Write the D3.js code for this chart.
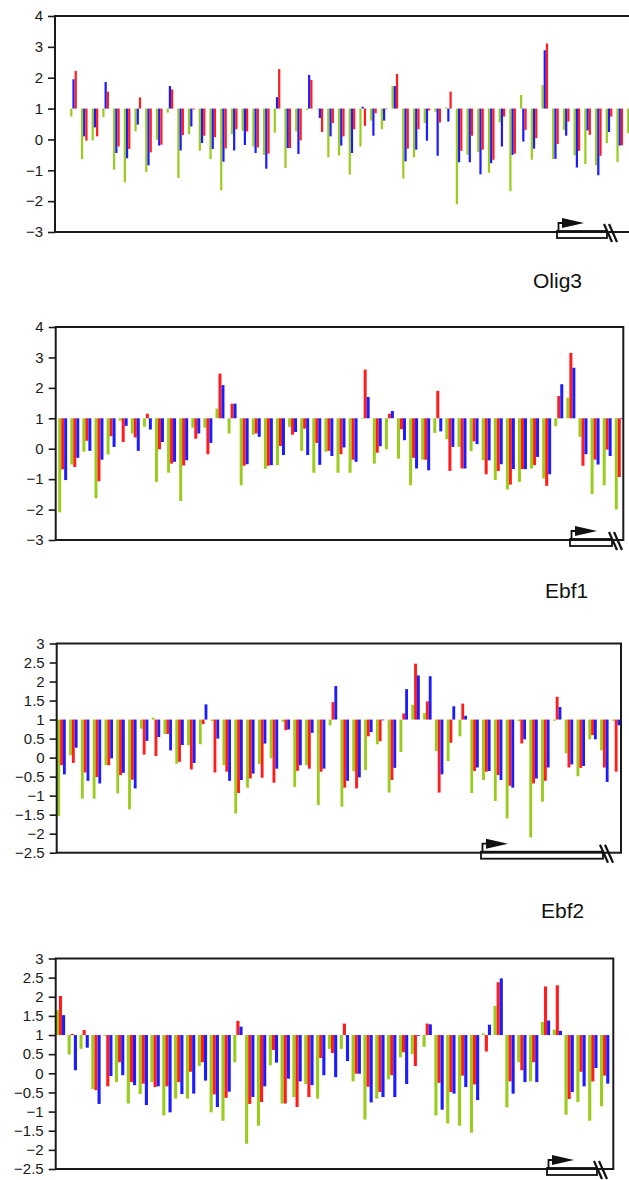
<!DOCTYPE html>
<html>
<head>
<meta charset="utf-8">
<script src="https://cdn.jsdelivr.net/npm/d3@7"></script>
<style>
  body { margin: 0; background: #fff; }
  svg { display: block; }
  text { font-family: "Liberation Sans", Arial, Helvetica, sans-serif; }
</style>
</head>
<body>
<div id="wrapper"></div>
<script>
// ---- data: values (baseline of the bars is 1) ----
const ticksWide = [-3, -2, -1, 0, 1, 2, 3, 4]
const ticksHalf = [-2.5, -2, -1.5, -1, -0.5, 0, 0.5, 1, 1.5, 2, 2.5, 3]

// top panel (label cropped off), bar order green / blue / red
const topGreen = [0.74, -0.64, -0.03, 0.72, -0.98, -1.39, 0.26, -1.06, -0.01, 0.87, -1.25, 0.17, -0.37, -0.64, -1.65, 0.17, 0.28, -0.23, -0.50, 0.22, -0.93, 0.26, 0.96, 0.98, -0.58, -0.52, -1.14, -0.23, 0.61, 0.33, 1.73, -1.27, -0.58, 0.53, 0.90, 1.04, -2.10, -0.50, -0.41, -1.08, 0.55, -1.68, 1.44, -0.66, 1.76, -0.64, 0.31, -0.52, -0.80, -0.84, -0.12, -0.73, 0.20]
const topBlue = [1.95, 0.10, 0.39, 1.86, -0.44, -0.61, 0.48, -0.84, -0.20, 1.73, -0.36, 0.42, -0.12, -0.31, -0.72, -0.36, -0.18, -0.44, -0.95, 1.37, -0.28, -0.47, 2.09, 0.69, 0.10, -0.20, -0.44, 1.06, 0.12, 0.61, 1.73, -0.71, -0.33, -0.04, -0.53, 0.58, -0.74, -0.74, -1.13, -0.77, -0.23, -0.50, -0.07, -0.30, 2.89, -0.63, 0.12, -0.91, 0.29, -1.16, 0.24, -0.20, -0.30]
const topRed = [2.22, -0.04, 0.10, 1.55, -0.23, -0.31, 1.36, -0.42, -0.17, 1.62, 0.14, 0.97, 0.12, 0.07, -0.29, 0.33, 0.26, -0.26, -0.46, 2.28, -0.28, -0.03, 1.93, 0.24, 0.53, 0.10, 0.33, 0.44, 0.85, 0.98, 2.12, -0.30, 0.33, 0.94, 0.55, 1.55, -0.37, 0.12, -0.33, -0.66, 0.74, -0.46, 0.31, 0.04, 3.11, -0.15, 0.58, -0.37, 0.15, -0.53, 0.74, -0.19, 0.50]

// Olig3, bar order green / red / blue
const olig3Green = [-2.09, -0.52, -0.10, -1.63, -0.19, 0.92, 0.50, 0.72, -1.09, -0.79, -1.72, 0.69, 0.69, 1.32, 0.50, -1.20, 0.46, -0.66, -0.54, 0.72, -0.07, -0.79, -0.10, -0.79, -0.79, 0.98, -0.49, -0.02, -0.33, -1.20, -0.36, 0.52, 0.31, 0.06, -0.08, -0.38, -1.03, -1.34, -1.09, -0.65, -0.98, 0.74, 1.68, 0.39, -1.49, -1.20, -2.00]
const olig3Red = [-0.68, -0.60, 0.26, -1.07, 0.41, 0.22, 0.37, 1.15, -0.02, -0.49, -0.55, 0.33, -0.18, 2.47, 1.48, -0.56, 0.50, -0.56, 0.09, 0.46, 0.66, 0.19, -0.07, -0.18, -0.36, 2.60, -0.13, 1.15, 0.64, -0.30, -0.36, 1.90, -0.73, -0.65, 0.24, -0.84, -0.73, -1.18, -0.67, -0.54, -1.22, 1.73, 3.15, -0.56, -0.36, -0.03, -0.93]
const olig3Blue = [-1.03, -0.30, -0.07, -0.36, 0.06, 0.75, -0.07, 0.63, 0.22, -0.43, -0.38, 0.50, 0.19, 2.09, 1.48, -0.51, 0.39, -0.54, -0.21, 0.55, -0.21, -0.53, -0.24, 0.04, -0.43, 1.70, 0.08, 1.24, 0.28, -0.65, -0.71, 0.57, 0.06, -0.65, 0.15, -0.38, -0.51, -0.67, -0.67, -0.27, -0.84, 2.12, 2.66, -0.18, -0.52, -0.24, 0.97]

// Ebf1, bar order green / red / blue
const ebf1Green = [-1.54, 0.06, -1.08, -1.08, -0.20, -0.94, -1.36, 0.76, 1.05, 0.62, -0.16, 0.33, 0.35, 0.96, -0.20, -1.47, -0.79, -0.17, -0.02, 0.94, -0.77, -0.20, -1.25, 0.85, -1.29, -0.36, -0.33, 0.35, -0.92, 0.15, 1.39, 1.17, 0.17, -0.09, 0.56, -0.93, -0.59, -1.14, -1.60, 0.96, -2.10, -1.16, 0.97, 0.11, -0.49, 0.48, 0.19, 0.97]
const ebf1Red = [-0.20, -0.14, -0.39, -0.51, -0.20, -0.46, -0.58, 0.08, 0.04, 0.62, -0.11, -0.31, 0.88, -0.39, -0.37, -0.93, -0.55, -0.53, -0.66, 0.72, -0.35, -0.29, -0.37, 1.46, -0.79, -0.81, 0.56, 0.43, -0.59, 1.16, 2.47, 1.48, -0.92, 0.39, 1.42, -0.35, -0.37, -0.46, -0.74, 0.37, -0.68, -0.61, 1.60, -0.26, -0.27, 0.59, -0.26, -0.37]
const ebf1Blue = [-0.44, 0.26, -0.61, -0.68, -0.02, -0.40, -0.81, 0.44, 0.54, 0.19, 0.33, -0.14, 1.40, 0.50, -0.61, -0.59, -0.42, 0.37, -0.29, 0.74, -0.20, 0.65, -0.29, 1.88, -0.61, -0.52, 0.67, 0.98, -0.27, 1.80, 2.16, 2.14, -0.44, 1.35, 1.10, -0.26, -0.35, -0.59, -0.79, 0.48, -0.55, -0.26, 1.33, -0.18, -0.22, 0.48, -0.64, 0.85]

// Ebf2, bar order green / red / blue
const ebf2Green = [1.65, 0.49, 0.64, -0.41, 0.98, -0.23, -0.79, -0.54, -0.23, -1.10, -0.66, -0.66, 0.19, -1.02, -1.24, 0.29, -1.84, -1.37, 0.21, -0.79, -0.62, -0.28, -0.66, 0.64, 0.64, -0.21, -1.21, -0.66, -0.16, 0.42, 0.50, 0.69, -1.10, -1.31, -1.37, -1.55, 1.04, 1.76, -0.89, 0.29, -0.21, 1.34, 1.14, -1.08, -0.75, -1.24, -0.86]
const ebf2Red = [2.02, 1.03, 1.13, -0.44, -0.34, 0.29, -0.23, -0.27, -0.36, -0.34, -0.23, 0.04, 0.29, -0.55, -0.64, 1.37, -0.80, -0.75, 0.61, -0.79, -0.88, -0.62, 0.40, 0.53, 1.30, -0.01, -0.35, -0.49, -0.05, 0.55, 0.19, 1.30, -0.25, -0.49, -0.06, -0.29, 0.57, 2.38, -0.21, 0.08, 0.29, 2.27, 2.30, -0.67, 0.04, -0.21, -0.06]
const ebf2Blue = [1.52, 0.08, 0.67, -0.80, -0.07, -0.05, -0.31, -0.83, -0.34, -1.02, -0.54, -0.53, -0.19, -0.88, -0.48, 1.22, -0.62, -0.34, 0.28, -0.14, -0.21, -0.31, -0.05, -0.10, 0.32, -0.01, -0.76, -0.62, -0.62, -0.28, 0.98, 1.28, -0.95, -0.53, -0.36, -0.70, 1.27, 2.48, -0.53, -0.23, -0.23, 1.38, 1.11, -0.49, -0.34, 0.14, -0.27]

const geneLabels = ['Olig3', 'Ebf1', 'Ebf2']

// ---- layout (pixel positions of each panel) ----
const W = 629
const H = 1180
const colors = { green: '#9acc1e', red: '#ff1c1c', blue: '#1c1cff' }

const panels = [
  { series: { green: topGreen, blue: topBlue, red: topRed }, order: ['green', 'blue', 'red'],
    domain: [-3, 4], ticks: ticksWide, top: 16, bottom: 232, left: 55, right: 660,
    firstX: 70.2, step: 10.71, groupFrac: 0.62, gene: [557, 607] },
  { series: { green: olig3Green, red: olig3Red, blue: olig3Blue }, order: ['green', 'red', 'blue'],
    domain: [-3, 4], ticks: ticksWide, top: 327, bottom: 540, left: 55.7, right: 623.3,
    firstX: 58.2, step: 12.1, groupFrac: 0.74, gene: [570, 612] },
  { series: { green: ebf1Green, red: ebf1Red, blue: ebf1Blue }, order: ['green', 'red', 'blue'],
    domain: [-2.5, 3], ticks: ticksHalf, top: 643.5, bottom: 852.7, left: 56.7, right: 621,
    firstX: 57.3, step: 11.8, groupFrac: 0.72, gene: [481, 603] },
  { series: { green: ebf2Green, red: ebf2Red, blue: ebf2Blue }, order: ['green', 'red', 'blue'],
    domain: [-2.5, 3], ticks: ticksHalf, top: 958.5, bottom: 1169, left: 55.7, right: 613.3,
    firstX: 55.8, step: 11.83, groupFrac: 0.79, gene: [547, 597] }
]

const labelPos = [
  { x: 533, y: 288 },
  { x: 545, y: 598 },
  { x: 541, y: 918 }
]

const svg = d3.select('#wrapper').append('svg')
  .attr('width', W)
  .attr('height', H)

panels.forEach(p => {
  const n = p.series.green.length
  const pad = 1 - p.groupFrac

  // band scale for the groups, so that each step matches the figure
  const x0 = d3.scaleBand()
    .domain(d3.range(n))
    .range([p.firstX, p.firstX + p.step * (n - pad)])
    .paddingInner(pad)
    .paddingOuter(0)

  const x1 = d3.scaleBand()
    .domain(p.order)
    .range([0, x0.bandwidth()])

  const y = d3.scaleLinear()
    .domain(p.domain)
    .range([p.bottom, p.top])

  const g = svg.append('g')

  const groups = g.selectAll('.grp')
    .data(d3.range(n))
    .join('g')
    .attr('class', 'grp')
    .attr('transform', i => `translate(${x0(i)},0)`)

  groups.selectAll('rect')
    .data(i => p.order.map(k => ({ key: k, v: p.series[k][i] })))
    .join('rect')
    .attr('x', d => x1(d.key))
    .attr('width', x1.bandwidth())
    .attr('y', d => y(Math.max(1, d.v)))
    .attr('height', d => Math.abs(y(d.v) - y(1)))
    .attr('fill', d => colors[d.key])

  // frame
  g.append('rect')
    .attr('x', p.left)
    .attr('y', p.top)
    .attr('width', p.right - p.left)
    .attr('height', p.bottom - p.top)
    .attr('fill', 'none')
    .attr('stroke', '#1a1a1a')
    .attr('stroke-width', 2)

  // y axis
  const axis = g.append('g')
    .attr('transform', `translate(${p.left},0)`)
    .call(d3.axisLeft(y)
      .tickValues(p.ticks)
      .tickSize(7)
      .tickPadding(5)
      .tickFormat(d3.format('')))
  axis.select('.domain').remove()
  axis.selectAll('line').attr('stroke', '#1a1a1a').attr('stroke-width', 1.6)
  axis.selectAll('text')
    .attr('font-size', 15)
    .attr('fill', '#1a1a1a')
    .attr('font-family', '"Liberation Sans", Arial, sans-serif')

  // gene diagram: exon box, promoter arrow and break marks
  const [gx0, gx1] = p.gene
  const ay = p.bottom
  const gd = g.append('g').attr('stroke', '#111').attr('fill', 'none')
  gd.append('rect')
    .attr('x', gx0).attr('y', ay - 1)
    .attr('width', gx1 - gx0).attr('height', 7)
    .attr('stroke-width', 1.8)
  gd.append('path')
    .attr('d', `M${gx0 + 1.5},${ay} V${ay - 9} H${gx0 + 6}`)
    .attr('stroke-width', 1.8)
  gd.append('path')
    .attr('d', `M${gx0 + 5},${ay - 14} L${gx0 + 27},${ay - 9} L${gx0 + 5},${ay - 4} Z`)
    .attr('fill', '#111').attr('stroke', 'none')
  ;[0, 5].forEach(dx => {
    gd.append('line')
      .attr('x1', gx1 - 3 + dx).attr('y1', ay - 8)
      .attr('x2', gx1 + 5 + dx).attr('y2', ay + 10)
      .attr('stroke-width', 2.2)
  })
})

svg.selectAll('.gene-label')
  .data(geneLabels)
  .join('text')
  .attr('class', 'gene-label')
  .attr('x', (d, i) => labelPos[i].x)
  .attr('y', (d, i) => labelPos[i].y)
  .attr('font-size', 21)
  .attr('fill', '#111')
  .text(d => d)
</script>
</body>
</html>
